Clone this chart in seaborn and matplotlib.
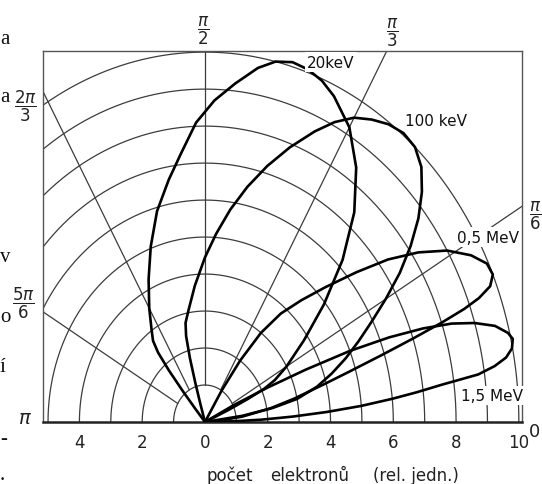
import numpy as np
import pandas as pd
import matplotlib
matplotlib.use("Agg")
import matplotlib.pyplot as plt
import seaborn as sns

# ---- data (polar outline of each lobe: angle in degrees, number of electrons in rel. units) ----
theta_20kev = [22.7, 23.0, 23.5, 24.5, 25.5, 27, 30, 35, 40, 45, 50, 55, 60, 65, 68, 71, 74, 77, 80, 84, 88, 92,
               96, 100, 105, 110, 115, 120, 124, 127, 128.5, 129.5, 130.2, 130.7, 131]
r_20kev = [0, 0.3, 0.8, 1.5, 2.1, 2.5, 3.0, 3.85, 4.95, 6.2, 7.4, 8.4, 9.2, 9.72, 9.95, 10.08, 10.12, 10.0, 9.72, 9.2, 8.7, 8.1,
           7.3, 6.65, 5.9, 5.05, 4.25, 3.55, 3.05, 2.75, 2.4, 1.8, 1.1, 0.5, 0]

theta_100kev = [6, 8, 10, 12, 15, 18, 21, 24, 27, 30, 33, 36, 39, 42, 45, 48, 51, 54, 57, 60, 63, 66, 70, 74,
                78, 82, 86, 90, 95, 100, 103, 104.5, 105.5, 106.2, 106.7, 107]
r_100kev = [0, 1.2, 2.2, 3.0, 3.7, 4.25, 4.8, 5.35, 5.95, 6.65, 7.4, 8.1, 8.75, 9.3, 9.75, 10.0, 10.05, 9.95, 9.75,
            9.5, 9.1, 8.6, 7.9, 7.2, 6.5, 5.8, 5.1, 4.45, 3.7, 3.05, 2.75, 2.4, 1.8, 1.1, 0.5, 0]

theta_05mev = [60, 58, 56, 53.5, 50.5, 47, 43.5, 40, 37, 34, 31, 28, 25.5, 23.5, 22, 21, 20.3, 19.6, 18.8,
               17.8, 16.5, 15, 12.5, 10, 7, 4, 2]
r_05mev = [0, 1.0, 2.0, 3.0, 3.8, 4.5, 5.3, 6.3, 7.3, 8.2, 9.0, 9.6, 9.95, 10.0, 9.8, 9.35, 8.8, 8.0, 7.0,
           5.9, 4.8, 3.9, 2.9, 2.1, 1.2, 0.4, 0]

theta_15mev = [28, 26.5, 25, 23.8, 22.6, 21.3, 20, 18.7, 17.3, 15.7, 14, 12.9, 11.5, 10.3, 9.3, 8.4, 7.6, 6.8,
               6.0, 5.0, 4.0, 3.0, 2.0, 1.2, 0.5]
r_15mev = [0, 1.0, 2.2, 3.5, 5.0, 6.3, 7.4, 8.3, 9.0, 9.6, 9.95, 10.06, 9.98, 9.75, 9.35, 8.8, 7.6, 6.8,
           6.0, 5.0, 3.9, 2.8, 1.8, 0.9, 0]

lobe_names = ["20keV", "100 keV", "0,5 MeV", "1,5 MeV"]
circle_radii = [1, 2, 3, 4, 5, 6, 7, 8, 9, 10]
ray_angles_deg = [30, 60, 90, 120, 150]
xtick_values = [-4, -2, 0, 2, 4, 6, 8, 10]
xtick_labels = ["4", "2", "0", "2", "4", "6", "8", "10"]

W, H = 542, 485
sns.set_theme(style="white")
plt.rcParams["font.family"] = ["DejaVu Sans"]
plt.rcParams["mathtext.fontset"] = "dejavusans"

fig = plt.figure(figsize=(W / 100, H / 100), dpi=100)
fig.patch.set_facecolor("white")
# axes box in pixels: left 43, right 522, top 52, bottom 423
ax = fig.add_axes([43 / W, (H - 423) / H, (522 - 43) / W, (423 - 52) / H])
ax.set_xlim(-5.16, 10.1)
ax.set_ylim(0, 10.03)
ax.set_facecolor("white")

grid_col = "#3c3c3c"
phi = np.linspace(0, np.pi, 400)
for rr in circle_radii:
    ax.plot(rr * np.cos(phi), rr * np.sin(phi), color=grid_col, lw=0.9, zorder=1)
for a in ray_angles_deg:
    t = np.deg2rad(a)
    ax.plot([1 * np.cos(t), 14 * np.cos(t)], [1 * np.sin(t), 14 * np.sin(t)],
            color=grid_col, lw=0.9, zorder=1)

lobes = [(theta_20kev, r_20kev), (theta_100kev, r_100kev),
         (theta_05mev, r_05mev), (theta_15mev, r_15mev)]
for name, (th, rv) in zip(lobe_names, lobes):
    t = np.deg2rad(np.array(th, dtype=float))
    rv = np.array(rv, dtype=float)
    df = pd.DataFrame({"x": rv * np.cos(t), "y": rv * np.sin(t)})
    sns.lineplot(data=df, x="x", y="y", sort=False, estimator=None,
                 color="black", lw=1.9, ax=ax, zorder=3)
    line = ax.lines[-1]
    line.set_solid_joinstyle("round")
    line.set_solid_capstyle("round")

box = dict(facecolor="white", edgecolor="none", pad=1.5)
lab_kw = dict(fontsize=11, color="#111111", ha="center", va="center", zorder=5, bbox=box)
ax.text(4.01, 9.73, lobe_names[0], **lab_kw)
ax.text(7.36, 8.14, lobe_names[1], **lab_kw)
ax.text(9.01, 5.0, lobe_names[2], **lab_kw)
ax.text(9.14, 0.72, lobe_names[3], **lab_kw)

for side in ["left", "right", "top"]:
    ax.spines[side].set_color("#555555")
    ax.spines[side].set_linewidth(1.0)
ax.spines["bottom"].set_color("#222222")
ax.spines["bottom"].set_linewidth(1.8)

ax.set_xticks(xtick_values)
ax.set_xticklabels(xtick_labels, fontsize=12, color="#222222")
ax.set_yticks([])
ax.tick_params(axis="x", length=0, pad=8)
ax.set_xlabel("")
ax.set_ylabel("")

def ftext(px, py, s, **kw):
    fig.text(px / W, 1 - py / H, s, **kw)

ang_kw = dict(fontsize=12, ha="center", va="center", color="#222222")
ftext(203, 31, r"$\dfrac{\pi}{2}$", **ang_kw)
ftext(392, 33, r"$\dfrac{\pi}{3}$", **ang_kw)
ftext(25, 106, r"$\dfrac{2\pi}{3}$", **ang_kw)
ftext(23, 303, r"$\dfrac{5\pi}{6}$", **ang_kw)
ftext(535, 216, r"$\dfrac{\pi}{6}$", **ang_kw)
ftext(25, 418, r"$\pi$", fontsize=14, ha="center", va="center", color="#222222")
ftext(534, 432, "0", fontsize=13, ha="center", va="center", color="#222222")

xl_kw = dict(fontsize=12, ha="center", va="center", color="#222222")
ftext(230, 476, "počet", **xl_kw)
ftext(310, 476, "elektronů", **xl_kw)
ftext(416, 476, "(rel. jedn.)", **xl_kw)

# fragments of neighbouring page text at the left edge
frag_kw = dict(fontsize=15, ha="left", va="center", color="#111111",
               family=["Liberation Serif", "DejaVu Serif"])
for py, s in [(40, "a"), (98, "a"), (258, "v"), (318, "o"), (368, "í"), (440, "-"), (476, ".")]:
    ftext(0, py, s, **frag_kw)

fig.savefig("out.png", dpi=100, facecolor="white")
